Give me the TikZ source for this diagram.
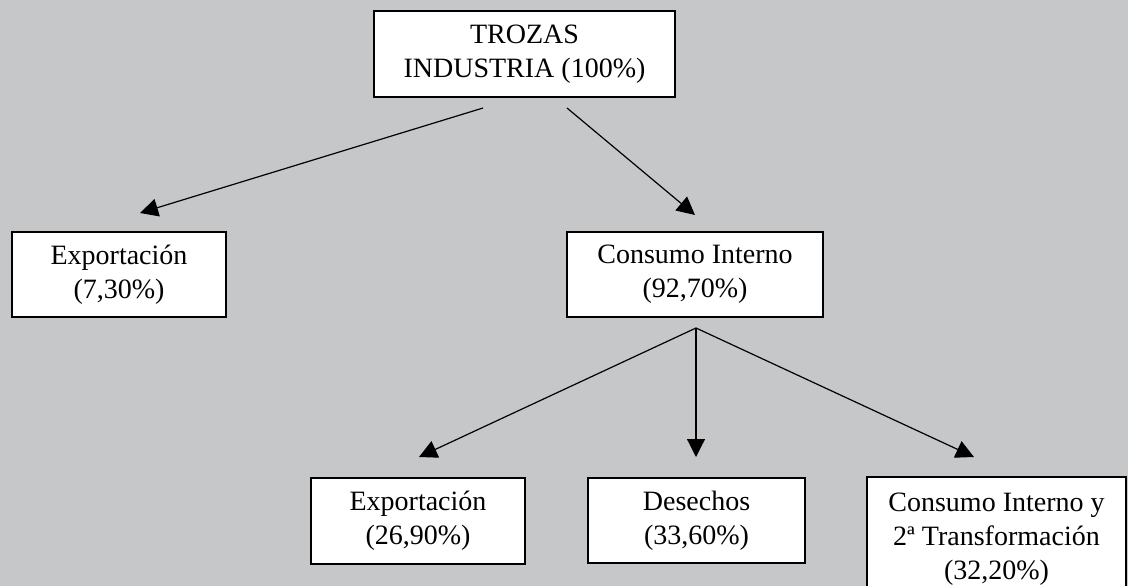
\documentclass[tikz,border=0pt]{standalone}
\usepackage{fontspec}
\setmainfont{Liberation Serif}
\usetikzlibrary{arrows.meta}
\definecolor{bggray}{RGB}{198,199,201}
\tikzset{
  box/.style={draw=black, line width=1.5pt, fill=white, inner sep=0pt, align=center,
    font=\fontsize{28}{34}\selectfont},
  conn/.style={line width=1.2pt, -{Triangle[length=18pt,width=18pt]}}
}
\begin{document}
\begin{tikzpicture}[x=1pt,y=-1pt]
\clip (0,0) rectangle (1128,586);
\fill[bggray] (0,0) rectangle (1128,586);
\node[box, minimum width=301pt, minimum height=86pt] (top) at (524.5,54) {TROZAS\\INDUSTRIA (100\%)};
\node[box, minimum width=214pt, minimum height=85pt] (exp1) at (119,274.5) {Exportación\\(7,30\%)};
\node[box, minimum width=256pt, minimum height=85pt] (ci) at (695,274.5) {Consumo Interno\\(92,70\%)};
\node[box, minimum width=214pt, minimum height=86pt] (exp2) at (418,521) {Exportación\\(26,90\%)};
\node[box, minimum width=217pt, minimum height=85pt] (des) at (696.5,520.5) {Desechos\\(33,60\%)};
\node[box, minimum width=259pt, minimum height=124pt] (ci2) at (996.5,539) {Consumo Interno y\\2ª Transformación\\(32,20\%)};
\coordinate (s1) at (483,108);
\coordinate (e1) at (140,213);
\coordinate (s2) at (567,108);
\coordinate (e2) at (695,215);
\coordinate (b) at (696,328);
\coordinate (e3) at (419,457);
\coordinate (e4) at (696,457);
\coordinate (e5) at (974,457);
\draw[conn] (s1) -- (e1);
\draw[conn] (s2) -- (e2);
\draw[conn] (b) -- (e3);
\draw[conn] (b) -- (e4);
\draw[conn] (b) -- (e5);
\end{tikzpicture}
\end{document}
